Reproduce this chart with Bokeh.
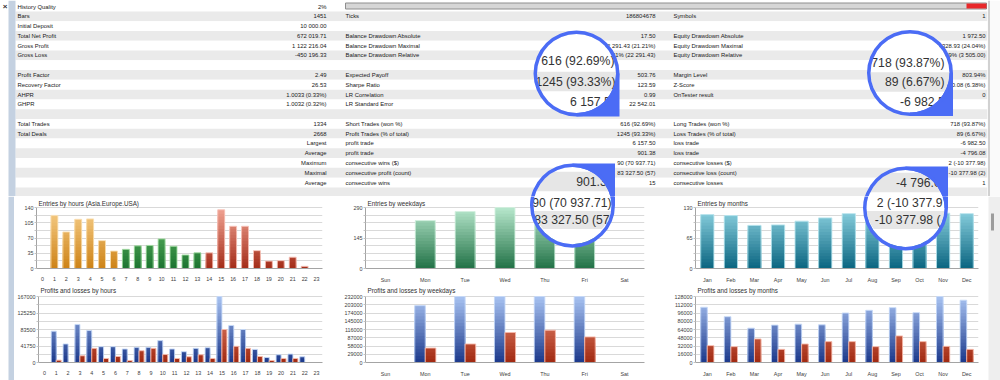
import numpy as np
from bokeh.plotting import figure
from bokeh.models import Range1d, FixedTicker, ColumnDataSource
from bokeh.layouts import row, column
from bokeh.embed import file_html
from bokeh.resources import INLINE
from bokeh.core.properties import value

# ---------------------------------------------------------------- data
TABLE_LEFT_LABELS = ["History Quality", "Bars", "Initial Deposit", "Total Net Profit", "Gross Profit",
                     "Gross Loss", "", "Profit Factor", "Recovery Factor", "AHPR", "GHPR", "",
                     "Total Trades", "Total Deals", "", "", "", "", "", ""]
TABLE_LEFT_VALUES = ["2%", "1451", "10 000.00", "672 019.71", "1 122 216.04", "-450 196.33", "",
                     "2.49", "26.53", "1.0033 (0.33%)", "1.0032 (0.32%)", "", "1334", "2668",
                     "Largest", "Average", "Maximum", "Maximal", "Average", ""]
TABLE_MID_LABELS = ["", "Ticks", "", "Balance Drawdown Absolute", "Balance Drawdown Maximal",
                    "Balance Drawdown Relative", "", "Expected Payoff", "Sharpe Ratio", "LR Correlation",
                    "LR Standard Error", "", "Short Trades (won %)", "Profit Trades (% of total)",
                    "profit trade", "profit trade", "consecutive wins ($)", "consecutive profit (count)",
                    "consecutive wins", ""]
TABLE_MID_VALUES = ["", "186804678", "", "17.50", "22 291.43 (21.21%)", "21.21% (22 291.43)", "",
                    "503.76", "123.59", "0.99", "22 542.01", "", "616 (92.69%)", "1245 (93.33%)",
                    "6 157.50", "901.38", "90 (70 937.71)", "83 327.50 (57)", "15", ""]
TABLE_RIGHT_LABELS = ["", "Symbols", "", "Equity Drawdown Absolute", "Equity Drawdown Maximal",
                      "Equity Drawdown Relative", "", "Margin Level", "Z-Score", "OnTester result", "",
                      "", "Long Trades (won %)", "Loss Trades (% of total)", "loss trade", "loss trade",
                      "consecutive losses ($)", "consecutive loss (count)", "consecutive losses", ""]
TABLE_RIGHT_VALUES = ["", "1", "", "1 972.50", "3 328.93 (24.04%)", "24.89% (3 505.00)", "",
                      "803.94%", "-30.08 (6.38%)", "0", "", "", "718 (93.87%)", "89 (6.67%)",
                      "-6 982.50", "-4 796.08", "2 (-10 377.98)", "-10 377.98 (2)", "1", ""]

HOURS = ["0", "1", "2", "3", "4", "5", "6", "7", "8", "9", "10", "11", "12", "13", "14", "15",
         "16", "17", "18", "19", "20", "21", "22", "23"]
HOUR_SESSION = ["Asia"] * 7 + ["Europe"] * 7 + ["USA"] * 10
ENTRIES_BY_HOUR = [0, 122, 84, 113, 114, 64, 40, 44, 52, 53, 68, 51, 31, 36, 36, 135, 97, 97, 41,
                   17, 18, 26, 5, 0]
PROFIT_BY_HOUR = [0, 79200, 46900, 96300, 80900, 40000, 40000, 34100, 38300, 38300, 55400, 34100,
                  27300, 35800, 37500, 167000, 93700, 83500, 33200, 12800, 19600, 21300, 14500, 0]
LOSS_BY_HOUR = [0, 6000, 0, 17000, 35800, 10200, 15300, 5100, 29800, 35800, 20400, 10200, 14500,
                19600, 10200, 83500, 40900, 35800, 15300, 5100, 10200, 10200, 0, 0]

WEEKDAYS = ["Sun", "Mon", "Tue", "Wed", "Thu", "Fri", "Sat"]
ENTRIES_BY_WEEKDAY = [0, 228, 271, 290, 285, 260, 0]
PROFIT_BY_WEEKDAY = [0, 200000, 233000, 238000, 236000, 235000, 0]
LOSS_BY_WEEKDAY = [0, 50900, 65100, 105300, 113600, 90000, 0]

MONTHS = ["Jan", "Feb", "Mar", "Apr", "May", "Jun", "Jul", "Aug", "Sep", "Oct", "Nov", "Dec"]
ENTRIES_BY_MONTH = [115, 113, 92, 93, 101, 108, 117, 118, 112, 108, 118, 117]
PROFIT_BY_MONTH = [107100, 88800, 66600, 72500, 74400, 73100, 96000, 101200, 106400, 96700,
                   129000, 120800]
LOSS_BY_MONTH = [32700, 30700, 45700, 25500, 35900, 40500, 40500, 30700, 51600, 40500, 31300, 25500]

HOUR_ENTRY_TICKS = ["0", "", "35", "", "70", "", "105", "", "140"]
WEEKDAY_ENTRY_TICKS = ["0", "", "", "", "145", "", "", "", "290"]
MONTH_ENTRY_TICKS = ["0", "", "", "", "65", "", "", "", "130"]
HOUR_PL_TICKS = ["0", "", "41750", "", "83500", "", "125250", "", "167000"]
WEEKDAY_PL_TICKS = ["0", "29000", "58000", "87000", "116000", "145000", "174000", "203000", "232000"]
MONTH_PL_TICKS = ["0", "16000", "32000", "48000", "64000", "80000", "96000", "112000", "128000"]

TITLES = ["Entries by hours (Asia.Europe.USA)", "Entries by weekdays", "Entries by months",
          "Profits and losses by hours", "Profits and losses by weekdays", "Profits and losses by months"]

# magnifier overlays: (row y, text, grey row, right x)
MAGNIFIERS = [
    dict(cx=576, cy=73, ro=43, corner="br",
         rows=[(60.5, "616 (92.69%)", False, 614), (81, "1245 (93.33%)", True, 615),
               (101.5, "6 157.50", False, 617)]),
    dict(cx=909.5, cy=72.5, ro=43, corner="br",
         rows=[(62, "718 (93.87%)", False, 944), (81.5, "89 (6.67%)", True, 944),
               (101, "-6 982.50", False, 951)]),
    dict(cx=572, cy=205.5, ro=42.5, corner="tr",
         rows=[(181, "901.38", True, 613), (203, "90 (70 937.71)", False, 611),
               (221.5, "83 327.50 (57", True, 609)]),
    dict(cx=905, cy=208.5, ro=42.5, corner="tr",
         rows=[(182, "-4 796.08", True, 947), (203, "2 (-10 377.9", False, 942),
               (221.5, "-10 377.98 (", True, 940)]),
]

# ---------------------------------------------------------------- style
FONT = "Liberation Sans"
TXT = "#202020"
BLUE = "#4b6cf5"
STRIPE_GREY = "#eaeaea"
STRIP_BLUE = "#c4d1e1"

SESSION_COLORS = {"Asia": ("#f8d08c", "#cd8216"), "Europe": ("#72c872", "#1c7330"),
                  "USA": ("#f2a595", "#a32c18")}
WEEK_GREEN = ("#b8e8cd", "#217146")
MONTH_TEAL = ("#92d6e4", "#0a6580")
PROFIT_BLUE = ("#a9c4f2", "#1a378a")
LOSS_RED = ("#f39a82", "#a02810")

ROW_PITCH = 9.78
ROW0_Y = 6.0
TABLE_H = 196
X0, X1 = 0, 1000

# column geometry (reference px): fig left, fig right, frame left, frame right
COLS = [(14, 330, 36, 322), (330, 662, 365, 644), (662, 985, 695, 978)]
# row geometry: fig top, fig bottom, frame bottom, top gridline, title y
ROWS_G = [(196, 285, 274, 208, 204), (285, 380, 362, 296, 290)]
MAG_FONT_H = 6.8


def mix(c1, c2, t):
    a = [int(c1[i:i + 2], 16) for i in (1, 3, 5)]
    b = [int(c2[i:i + 2], 16) for i in (1, 3, 5)]
    return "#" + "".join("%02x" % int(round(a[i] + (b[i] - a[i]) * t)) for i in range(3))


def add_magnifier(p, m, ya, yb):
    cx, cy, ro = m["cx"], m["cy"], m["ro"]
    ri = ro - 3.5
    kw = dict(x_range_name="px", y_range_name="py")
    p.circle(x=[cx], y=[cy], radius=ri, fill_color="white", line_color=None, **kw)
    for (ty, txt, grey, rx) in m["rows"]:
        if grey:
            ys = np.linspace(max(ty - 9.8, cy - ri), min(ty + 9.8, cy + ri), 30)
            dx = np.sqrt(np.maximum(ri ** 2 - (ys - cy) ** 2, 0))
            p.patch(x=np.concatenate([cx - dx, (cx + dx)[::-1]]), y=np.concatenate([ys, ys[::-1]]),
                    fill_color="#e6e6e6", line_color=None, **kw)
    rows_in = [r for r in m["rows"] if r[0] - MAG_FONT_H >= ya and r[0] + MAG_FONT_H <= yb]
    if rows_in:
        p.text(x=[r[3] for r in rows_in], y=[r[0] for r in rows_in], text=[r[1] for r in rows_in],
               text_align="right", text_baseline="middle", text_font=value(FONT),
               text_font_size=value("12.2px"), text_color="#333333", **kw)
    s = 1 if m["corner"] == "br" else -1
    t = np.linspace(0, np.pi / 2, 30)
    ax = cx + ri * np.cos(t)
    ay = cy + s * ri * np.sin(t)
    p.patch(x=np.concatenate([ax, [cx, cx + ro, cx + ro]]),
            y=np.concatenate([ay, [cy + s * ro, cy + s * ro, cy]]),
            fill_color=BLUE, line_color=None, **kw)
    p.annulus(x=[cx], y=[cy], inner_radius=ri, outer_radius=ro, fill_color=BLUE, line_color=None, **kw)


def overlaps(m, xa, xb, ya, yb):
    return (m["cx"] + m["ro"] > xa and m["cx"] - m["ro"] < xb and
            m["cy"] + m["ro"] > ya and m["cy"] - m["ro"] < yb)


# ---------------------------------------------------------------- table
ROWS = list(range(len(TABLE_LEFT_LABELS)))
tbl = figure(width=X1 - X0, height=TABLE_H, x_range=Range1d(X0, X1),
             y_range=Range1d((TABLE_H - ROW0_Y) / ROW_PITCH, -ROW0_Y / ROW_PITCH),
             toolbar_location=None, output_backend="svg", title=None,
             x_axis_location=None, y_axis_location=None, min_border=0)
tbl.grid.visible = False
tbl.outline_line_color = None
tbl.background_fill_color = "white"
tbl.border_fill_color = "white"
tbl.extra_x_ranges = {"px": Range1d(X0, X1)}
tbl.extra_y_ranges = {"py": Range1d(TABLE_H, 0)}

stripe = ["#ffffff" if i % 2 == 0 else STRIPE_GREY for i in ROWS]
tbl.hbar(y=ROWS, height=1.0, left=15, right=987, fill_color=stripe, line_color=None)
tbl.quad(left=[8], right=[15], top=[0], bottom=[TABLE_H], fill_color=STRIP_BLUE, line_color=None,
         x_range_name="px", y_range_name="py")
tbl.quad(left=[987], right=[1000], top=[0], bottom=[TABLE_H], fill_color="#fafafa", line_color=None,
         x_range_name="px", y_range_name="py")
tbl.segment(x0=[988.5], x1=[988.5], y0=[0], y1=[TABLE_H], line_color="#a8a8a8", line_width=1,
            x_range_name="px", y_range_name="py")
tbl.text(x=[4.5], y=[6], text=["×"], text_align="center", text_baseline="middle",
         text_font=value(FONT), text_font_size=value("8px"), text_font_style="bold",
         text_color="#303030", x_range_name="px", y_range_name="py")
# history quality bar
tbl.quad(left=[345], right=[986], top=[2.5], bottom=[8.5], fill_color="#d6d6d6", line_color="#8e8e8e",
         line_width=1, x_range_name="px", y_range_name="py")
tbl.quad(left=[966], right=[986], top=[3], bottom=[8], fill_color="#e8282a", line_color=None,
         x_range_name="px", y_range_name="py")

tfont = dict(text_font=value(FONT), text_font_size=value("5.9px"), text_color=TXT, text_baseline="middle")
tbl.text(x=17, y=ROWS, text=TABLE_LEFT_LABELS, text_align="left", **tfont)
tbl.text(x=326, y=ROWS, text=TABLE_LEFT_VALUES, text_align="right", **tfont)
tbl.text(x=345, y=ROWS, text=TABLE_MID_LABELS, text_align="left", **tfont)
tbl.text(x=655, y=ROWS, text=TABLE_MID_VALUES, text_align="right", **tfont)
tbl.text(x=673, y=ROWS, text=TABLE_RIGHT_LABELS, text_align="left", **tfont)
tbl.text(x=985, y=ROWS, text=TABLE_RIGHT_VALUES, text_align="right", **tfont)

for m in MAGNIFIERS:
    if overlaps(m, X0, X1, 0, TABLE_H):
        add_magnifier(tbl, m, 0, TABLE_H)


# ---------------------------------------------------------------- charts
def gradient_bars(p, cats, vals, top, lights, darks, width, offset=0.0, n=20):
    idx = list(range(len(cats)))
    edges = np.linspace(0, top, n + 1)
    xs, tops, cols = [], [], []
    for k in range(n - 1, -1, -1):
        t = (k + 0.5) / n
        for i, v, lc, dc in zip(idx, vals, lights, darks):
            vv = min(v, top)
            if vv > edges[k]:
                xs.append(i + offset)
                tops.append(min(vv, edges[k + 1]))
                cols.append(mix(dc, lc, t))
    src = ColumnDataSource(dict(x=xs, top=tops, color=cols))
    p.vbar(x="x", top="top", bottom=0, width=width, fill_color="color", line_color=None, source=src)
    oc = [(i + offset, min(v, top), mix(lc, "#ffffff", 0.35)) for i, v, lc in zip(idx, vals, lights) if v > 0]
    src2 = ColumnDataSource(dict(x=[o[0] for o in oc], top=[o[1] for o in oc], lc=[o[2] for o in oc]))
    p.vbar(x="x", top="top", bottom=0, width=width, fill_color=None, line_color="lc",
           line_width=1, line_alpha=0.9, source=src2)


def make_chart(ci, ri, cats, tick_labels, title):
    x0, x1, fl, fr = COLS[ci]
    y0, y1, fb, tg, ty = ROWS_G[ri]
    top = float(tick_labels[-1])
    yend = top * (fb - y0) / (fb - tg)
    p = figure(width=x1 - x0, height=y1 - y0, x_range=Range1d(-0.5, len(cats) - 0.5),
               y_range=Range1d(0, yend), toolbar_location=None, output_backend="svg", title=None,
               min_border_left=fl - x0, min_border_right=x1 - fr, min_border_top=0,
               min_border_bottom=y1 - fb)
    p.outline_line_color = None
    p.background_fill_color = "white"
    p.border_fill_color = "white"
    p.extra_x_ranges = {"px": Range1d(fl, fr)}
    p.extra_y_ranges = {"py": Range1d(fb, y0)}
    ticks = list(np.linspace(0, top, len(tick_labels)))
    keys = [int(t) if float(t).is_integer() else float(t) for t in ticks]
    p.yaxis.ticker = FixedTicker(ticks=keys)
    p.yaxis.major_label_overrides = {k: lab for k, lab in zip(keys, tick_labels)}
    p.yaxis.bounds = (0, top)
    p.xaxis.ticker = FixedTicker(ticks=list(range(len(cats))))
    p.xaxis.major_label_overrides = {i: c for i, c in enumerate(cats)}
    for ax in (p.xaxis, p.yaxis):
        ax.axis_line_color = "#a4a4a4"
        ax.major_label_text_font = FONT
        ax.major_label_text_font_size = "5.4px"
        ax.major_label_text_color = "#404040"
        ax.minor_tick_line_color = None
    p.yaxis.major_tick_line_color = "#c4c4c4"
    p.yaxis.major_tick_out = 2
    p.yaxis.major_tick_in = 0
    p.yaxis.major_label_standoff = 1
    p.xaxis.major_tick_line_color = None
    p.xaxis.major_label_standoff = 2
    p.xgrid.visible = False
    p.ygrid.grid_line_color = "#d9d9d9"
    p.text(x=[fl + 2], y=[ty], text=[title], text_align="left", text_baseline="middle",
           text_font=value(FONT), text_font_size=value("6.3px"), text_color="#303030",
           x_range_name="px", y_range_name="py")
    return p, top, (fl, fr, y0, fb)


def finish(p, box):
    fl, fr, y0, fb = box
    for m in MAGNIFIERS:
        if overlaps(m, fl, fr, y0, fb):
            add_magnifier(p, m, y0, fb)


# entries by hours
h1, top, box = make_chart(0, 0, HOURS, HOUR_ENTRY_TICKS, TITLES[0])
gradient_bars(h1, HOURS, ENTRIES_BY_HOUR, top, [SESSION_COLORS[s][0] for s in HOUR_SESSION],
              [SESSION_COLORS[s][1] for s in HOUR_SESSION], 0.58)
finish(h1, box)

# entries by weekdays
w1, top, box = make_chart(1, 0, WEEKDAYS, WEEKDAY_ENTRY_TICKS, TITLES[1])
gradient_bars(w1, WEEKDAYS, ENTRIES_BY_WEEKDAY, top, [WEEK_GREEN[0]] * 7, [WEEK_GREEN[1]] * 7, 0.5)
finish(w1, box)

# entries by months
m1, top, box = make_chart(2, 0, MONTHS, MONTH_ENTRY_TICKS, TITLES[2])
gradient_bars(m1, MONTHS, ENTRIES_BY_MONTH, top, [MONTH_TEAL[0]] * 12, [MONTH_TEAL[1]] * 12, 0.56)
finish(m1, box)

# profits and losses by hours
h2, top, box = make_chart(0, 1, HOURS, HOUR_PL_TICKS, TITLES[3])
gradient_bars(h2, HOURS, PROFIT_BY_HOUR, top, [PROFIT_BLUE[0]] * 24, [PROFIT_BLUE[1]] * 24, 0.42, -0.21)
gradient_bars(h2, HOURS, LOSS_BY_HOUR, top, [LOSS_RED[0]] * 24, [LOSS_RED[1]] * 24, 0.42, 0.21)
finish(h2, box)

# profits and losses by weekdays
w2, top, box = make_chart(1, 1, WEEKDAYS, WEEKDAY_PL_TICKS, TITLES[4])
gradient_bars(w2, WEEKDAYS, PROFIT_BY_WEEKDAY, top, [PROFIT_BLUE[0]] * 7, [PROFIT_BLUE[1]] * 7, 0.265, -0.1325)
gradient_bars(w2, WEEKDAYS, LOSS_BY_WEEKDAY, top, [LOSS_RED[0]] * 7, [LOSS_RED[1]] * 7, 0.265, 0.1325)
finish(w2, box)

# profits and losses by months
m2, top, box = make_chart(2, 1, MONTHS, MONTH_PL_TICKS, TITLES[5])
gradient_bars(m2, MONTHS, PROFIT_BY_MONTH, top, [PROFIT_BLUE[0]] * 12, [PROFIT_BLUE[1]] * 12, 0.28, -0.14)
gradient_bars(m2, MONTHS, LOSS_BY_MONTH, top, [LOSS_RED[0]] * 12, [LOSS_RED[1]] * 12, 0.28, 0.14)
finish(m2, box)

# side strips of the chart area
CH_Y0 = ROWS_G[0][0]
CH_H = ROWS_G[1][1] - CH_Y0
LW = COLS[0][0] - X0
left_strip = figure(width=LW, height=CH_H, x_range=Range1d(X0, COLS[0][0]), y_range=Range1d(ROWS_G[1][1], CH_Y0),
                    toolbar_location=None, output_backend="svg", title=None, min_border=0,
                    x_axis_location=None, y_axis_location=None)
left_strip.grid.visible = False
left_strip.outline_line_color = None
left_strip.background_fill_color = "white"
left_strip.border_fill_color = "white"
left_strip.quad(left=[8], right=[COLS[0][0]], bottom=[ROWS_G[1][1]], top=[CH_Y0], fill_color=STRIP_BLUE,
                line_color=None)

RX0 = COLS[2][1]
right_strip = figure(width=X1 - RX0, height=CH_H, x_range=Range1d(RX0, X1), y_range=Range1d(ROWS_G[1][1], CH_Y0),
                     toolbar_location=None, output_backend="svg", title=None, min_border=0,
                     x_axis_location=None, y_axis_location=None)
right_strip.grid.visible = False
right_strip.outline_line_color = None
right_strip.background_fill_color = "white"
right_strip.border_fill_color = "white"
right_strip.quad(left=[988], right=[X1], bottom=[ROWS_G[1][1]], top=[CH_Y0], fill_color="#eeeeee",
                 line_color=None)
right_strip.quad(left=[990.5], right=[993.5], bottom=[230], top=[213], fill_color="#9c9c9c", line_color=None)

charts = column(row(h1, w1, m1), row(h2, w2, m2))
page = column(tbl, row(left_strip, charts, right_strip))

open("out.html", "w").write(file_html(page, INLINE))
